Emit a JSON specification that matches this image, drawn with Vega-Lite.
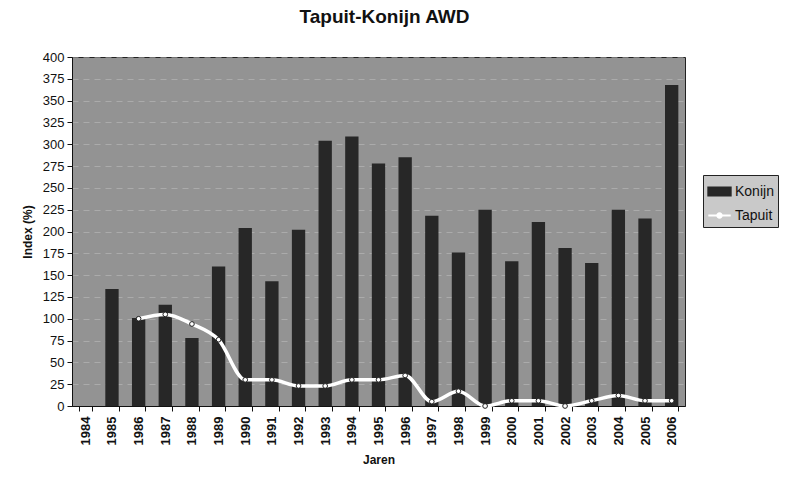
{
  "$schema": "https://vega.github.io/schema/vega-lite/v6.json",
  "width": 613,
  "height": 349,
  "autosize": "none",
  "padding": {"left": 72, "top": 57, "right": 106, "bottom": 71},
  "background": "white",
  "title": {
    "text": "Tapuit-Konijn AWD",
    "font": "Liberation Sans",
    "fontSize": 19,
    "fontWeight": "bold",
    "color": "#111",
    "anchor": "middle",
    "dx": 6,
    "offset": 24
  },
  "config": {
    "view": {"fill": "#939393", "stroke": "#222", "strokeWidth": 1},
    "font": "Liberation Sans"
  },
  "data": {
    "values": [
      {"year": "1984", "Konijn": null, "Tapuit": null},
      {"year": "1985", "Konijn": 134, "Tapuit": null},
      {"year": "1986", "Konijn": 101, "Tapuit": 100},
      {"year": "1987", "Konijn": 116, "Tapuit": 105},
      {"year": "1988", "Konijn": 78, "Tapuit": 94},
      {"year": "1989", "Konijn": 160, "Tapuit": 76},
      {"year": "1990", "Konijn": 204, "Tapuit": 30},
      {"year": "1991", "Konijn": 143, "Tapuit": 30},
      {"year": "1992", "Konijn": 202, "Tapuit": 23},
      {"year": "1993", "Konijn": 304, "Tapuit": 23},
      {"year": "1994", "Konijn": 309, "Tapuit": 30},
      {"year": "1995", "Konijn": 278, "Tapuit": 30},
      {"year": "1996", "Konijn": 285, "Tapuit": 35},
      {"year": "1997", "Konijn": 218, "Tapuit": 5},
      {"year": "1998", "Konijn": 176, "Tapuit": 17},
      {"year": "1999", "Konijn": 225, "Tapuit": 0},
      {"year": "2000", "Konijn": 166, "Tapuit": 6},
      {"year": "2001", "Konijn": 211, "Tapuit": 6},
      {"year": "2002", "Konijn": 181, "Tapuit": 0},
      {"year": "2003", "Konijn": 164, "Tapuit": 6},
      {"year": "2004", "Konijn": 225, "Tapuit": 12},
      {"year": "2005", "Konijn": 215, "Tapuit": 6},
      {"year": "2006", "Konijn": 368, "Tapuit": 6}
    ]
  },
  "encoding": {
    "x": {
      "field": "year",
      "type": "nominal",
      "sort": null,
      "scale": {
        "domain": ["1984","1985","1986","1987","1988","1989","1990","1991","1992","1993","1994","1995","1996","1997","1998","1999","2000","2001","2002","2003","2004","2005","2006"],
        "paddingInner": 0.5,
        "paddingOuter": 0.25
      },
      "axis": {
        "title": "Jaren",
        "titleFontSize": 12,
        "titleFontWeight": "bold",
        "titleColor": "#111",
        "titlePadding": 10,
        "labelAngle": -90,
        "labelFontSize": 13,
        "labelFontWeight": "bold",
        "labelColor": "#111",
        "labelPadding": 5,
        "tickBand": "extent",
        "tickColor": "#111",
        "tickSize": 5,
        "domainColor": "#111",
        "grid": false
      }
    }
  },
  "layer": [
    {
      "mark": {"type": "bar", "fill": "#272727"},
      "encoding": {
        "y": {
          "field": "Konijn",
          "type": "quantitative",
          "scale": {"domain": [0, 400], "nice": false},
          "axis": {
            "title": "Index (%)",
            "titleFontSize": 12,
            "titleFontWeight": "bold",
            "titleColor": "#111",
            "titlePadding": 8,
            "values": [0,25,50,75,100,125,150,175,200,225,250,275,300,325,350,375,400],
            "labelOverlap": false,
            "labelFontSize": 13,
            "labelColor": "#111",
            "labelPadding": 3,
            "tickColor": "#111",
            "tickSize": 5,
            "domainColor": "#111",
            "grid": true,
            "gridColor": "#c4c4c4",
            "gridDash": [6, 5],
            "gridOpacity": 0.5
          }
        },
        "color": {
          "datum": "Konijn",
          "scale": {"domain": ["Konijn", "Tapuit"], "range": ["#272727", "#ffffff"]},
          "legend": {
            "title": null,
            "orient": "none",
            "legendX": 631,
            "legendY": 118,
            "fillColor": "#c9c9c9",
            "strokeColor": "#222",
            "padding": 4,
            "labelFontSize": 14,
            "labelColor": "#111",
            "labelOffset": 3,
            "symbolSize": 500,
            "rowPadding": 3,
            "encode": {
              "symbols": {
                "update": {
                  "shape": {"signal": "datum.value === 'Konijn' ? 'M-1,-0.35H1V0.35H-1Z' : 'M-1,0H-0.22M0.22,0H1M0.2,0A0.2,0.2 0 1 1 -0.2,0A0.2,0.2 0 1 1 0.2,0'"},
                  "fill": {"signal": "datum.value === 'Konijn' ? '#272727' : 'transparent'"},
                  "stroke": {"signal": "datum.value === 'Konijn' ? '#272727' : '#ffffff'"},
                  "strokeWidth": {"value": 2}
                }
              }
            }
          }
        }
      }
    },
    {
      "mark": {"type": "line", "interpolate": "monotone", "strokeWidth": 3.5},
      "encoding": {
        "y": {
          "field": "Tapuit",
          "type": "quantitative",
          "axis": {
            "title": "Index (%)",
            "titleFontSize": 12,
            "titleFontWeight": "bold",
            "titleColor": "#111",
            "titlePadding": 8,
            "values": [0,25,50,75,100,125,150,175,200,225,250,275,300,325,350,375,400],
            "labelOverlap": false,
            "labelFontSize": 13,
            "labelColor": "#111",
            "labelPadding": 3,
            "tickColor": "#111",
            "tickSize": 5,
            "domainColor": "#111",
            "grid": true,
            "gridColor": "#c4c4c4",
            "gridDash": [6, 5],
            "gridOpacity": 0.5
          }
        },
        "color": {"datum": "Tapuit"}
      }
    },
    {
      "mark": {"type": "point", "filled": true, "fill": "#ffffff", "stroke": "#222", "strokeWidth": 1, "size": 22, "opacity": 1},
      "encoding": {
        "y": {
          "field": "Tapuit",
          "type": "quantitative",
          "axis": {
            "title": "Index (%)",
            "titleFontSize": 12,
            "titleFontWeight": "bold",
            "titleColor": "#111",
            "titlePadding": 8,
            "values": [0,25,50,75,100,125,150,175,200,225,250,275,300,325,350,375,400],
            "labelOverlap": false,
            "labelFontSize": 13,
            "labelColor": "#111",
            "labelPadding": 3,
            "tickColor": "#111",
            "tickSize": 5,
            "domainColor": "#111",
            "grid": true,
            "gridColor": "#c4c4c4",
            "gridDash": [6, 5],
            "gridOpacity": 0.5
          }
        }
      }
    }
  ]
}
